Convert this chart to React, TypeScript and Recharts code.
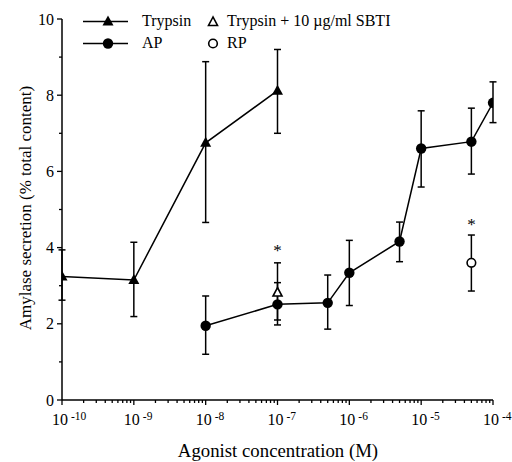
import React from 'react';
import { ComposedChart, Line, Scatter, XAxis, YAxis, ErrorBar } from 'recharts';

// Trypsin (filled triangles)
const trypsinConc = [1e-10, 1e-9, 1e-8, 1e-7];
const trypsinMean = [3.24, 3.15, 6.75, 8.12];
const trypsinLow = [2.62, 2.19, 4.66, 7.0];
const trypsinHigh = [3.94, 4.14, 8.88, 9.2];

// AP (filled circles)
const apConc = [1e-8, 1e-7, 5e-7, 1e-6, 5e-6, 1e-5, 5e-5, 1e-4];
const apMean = [1.95, 2.51, 2.55, 3.34, 4.16, 6.6, 6.78, 7.8];
const apLow = [1.2, 1.97, 1.86, 2.48, 3.63, 5.59, 5.93, 7.28];
const apHigh = [2.73, 3.08, 3.28, 4.19, 4.67, 7.59, 7.66, 8.35];

// Trypsin + 10 ug/ml SBTI (open triangle)
const sbtiConc = [1e-7];
const sbtiMean = [2.82];
const sbtiLow = [2.1];
const sbtiHigh = [3.6];

// RP (open circle)
const rpConc = [5e-5];
const rpMean = [3.6];
const rpLow = [2.86];
const rpHigh = [4.33];

// significance marks
const starConc = [1e-7, 5e-5];
const starLevel = [3.98, 4.68];

const decades = [-10, -9, -8, -7, -6, -5, -4];
const minorSteps = [2, 3, 4, 5, 6, 7, 8, 9];
const yTicks = [0, 1, 2, 3, 4, 5, 6, 7, 8, 9, 10];

const xTicks: number[] = [];
decades.forEach((d, i) => {
  xTicks.push(Math.pow(10, d));
  if (i < decades.length - 1) minorSteps.forEach((m) => xTicks.push(m * Math.pow(10, d)));
});

const build = (xs: number[], ys: number[], lo: number[], hi: number[]) =>
  xs.map((x, i) => ({ x, y: ys[i], err: [ys[i] - lo[i], hi[i] - ys[i]] }));

const trypsinData = build(trypsinConc, trypsinMean, trypsinLow, trypsinHigh);
const apData = build(apConc, apMean, apLow, apHigh);
const sbtiData = build(sbtiConc, sbtiMean, sbtiLow, sbtiHigh);
const rpData = build(rpConc, rpMean, rpLow, rpHigh);
const starData = starConc.map((x, i) => ({ x, y: starLevel[i] }));

const FONT = "Liberation Serif, Times New Roman, serif";

const FilledTri = ({ cx, cy }: any) => (
  <path d={`M${cx},${cy - 6} L${cx - 5.5},${cy + 4} L${cx + 5.5},${cy + 4} Z`} fill="#000" />
);
const OpenTri = ({ cx, cy }: any) => (
  <path d={`M${cx},${cy - 5} L${cx - 4.5},${cy + 3.5} L${cx + 4.5},${cy + 3.5} Z`} fill="#fff" stroke="#000" strokeWidth={1.6} />
);
const FilledDot = ({ cx, cy }: any) => <circle cx={cx} cy={cy} r={5.2} fill="#000" />;
const OpenDot = ({ cx, cy }: any) => <circle cx={cx} cy={cy} r={4.3} fill="#fff" stroke="#000" strokeWidth={1.6} />;
const Star = ({ cx, cy }: any) => (
  <text x={cx} y={cy + 8} textAnchor="middle" style={{ fontFamily: FONT }} fontSize={17} fill="#000">*</text>
);

const XTick = ({ x, y, payload }: any) => {
  const v = payload.value;
  const e = Math.log10(v);
  const major = Math.abs(e - Math.round(e)) < 1e-6;
  return (
    <g>
      <line x1={x} x2={x} y1={y} y2={y + (major ? 5 : 3)} stroke="#000" strokeWidth={1.3} />
      {major && (
        <>
          <text x={x - 2} y={y + 25} textAnchor="middle" style={{ fontFamily: FONT }} fontSize={16} fill="#000">10</text>
          <text x={x + 9} y={y + 19.5} textAnchor="start" style={{ fontFamily: FONT }} fontSize={11.5} fill="#000">{`-${-Math.round(e)}`}</text>
        </>
      )}
    </g>
  );
};

const YTick = ({ x, y, payload }: any) => {
  const v = payload.value;
  const major = v % 2 === 0;
  return (
    <g>
      <line x1={x - (major ? 5 : 3)} x2={x} y1={y} y2={y} stroke="#000" strokeWidth={1.3} />
      {major && (
        <text x={x - 8} y={y + 5.5} textAnchor="end" style={{ fontFamily: FONT }} fontSize={16} fill="#000">{v}</text>
      )}
    </g>
  );
};

const Overlay = () => (
  <svg width={512} height={462} style={{ position: 'absolute', left: 0, top: 0, pointerEvents: 'none', fontFamily: FONT }}>
    {/* legend */}
    <line x1={83} x2={128} y1={21.5} y2={21.5} stroke="#000" strokeWidth={1.5} />
    <FilledTri cx={108} cy={21.5} />
    <text x={142} y={26} fontSize={16} fill="#000">Trypsin</text>
    <line x1={83} x2={128} y1={43.5} y2={43.5} stroke="#000" strokeWidth={1.5} />
    <FilledDot cx={108} cy={43.5} />
    <text x={142} y={48} fontSize={16} fill="#000">AP</text>
    <OpenTri cx={213} cy={22} />
    <text x={227} y={26} fontSize={16} fill="#000">Trypsin + 10 µg/ml SBTI</text>
    <OpenDot cx={213} cy={43.5} />
    <text x={227} y={48} fontSize={16} fill="#000">RP</text>
    {/* axis titles */}
    <text x={278} y={457} textAnchor="middle" fontSize={18.8} fill="#000">Agonist concentration (M)</text>
    <text x={31} y={208} transform="rotate(-90 31 208)" textAnchor="middle" fontSize={17} fill="#000">
      Amylase secretion (% total content)
    </text>
  </svg>
);

export default function App() {
  return (
    <div style={{ position: 'absolute', left: 0, top: 0, width: 512, height: 462, background: '#fff' }}>
      <ComposedChart width={512} height={462} margin={{ top: 19, right: 19, bottom: 0, left: 2 }}>
        <XAxis
          dataKey="x"
          type="number"
          scale="log"
          domain={[1e-10, 1e-4]}
          allowDataOverflow
          ticks={xTicks}
          interval={0}
          tick={<XTick />}
          tickLine={false}
          tickSize={0}
          tickMargin={0}
          height={62}
          axisLine={{ stroke: '#000', strokeWidth: 1.5 }}
        />
        <YAxis
          dataKey="y"
          type="number"
          domain={[0, 10]}
          ticks={yTicks}
          interval={0}
          tick={<YTick />}
          tickLine={false}
          tickSize={0}
          tickMargin={0}
          width={60}
          axisLine={{ stroke: '#000', strokeWidth: 1.5 }}
        />
        <Line
          data={trypsinData}
          dataKey="y"
          stroke="#000"
          strokeWidth={1.5}
          dot={(p: any) => <FilledTri key={`t${p.index}`} cx={p.cx} cy={p.cy} />}
          activeDot={false}
          isAnimationActive={false}
        >
          <ErrorBar dataKey="err" direction="y" width={3.5} stroke="#000" strokeWidth={1.5} />
        </Line>
        <Line
          data={apData}
          dataKey="y"
          stroke="#000"
          strokeWidth={1.5}
          dot={(p: any) => <FilledDot key={`a${p.index}`} cx={p.cx} cy={p.cy} />}
          activeDot={false}
          isAnimationActive={false}
        >
          <ErrorBar dataKey="err" direction="y" width={3.5} stroke="#000" strokeWidth={1.5} />
        </Line>
        <Scatter data={sbtiData} dataKey="y" shape={(p: any) => <OpenTri cx={p.cx} cy={p.cy} />} isAnimationActive={false}>
          <ErrorBar dataKey="err" direction="y" width={3.5} stroke="#000" strokeWidth={1.5} />
        </Scatter>
        <Scatter data={rpData} dataKey="y" shape={(p: any) => <OpenDot cx={p.cx} cy={p.cy} />} isAnimationActive={false}>
          <ErrorBar dataKey="err" direction="y" width={3.5} stroke="#000" strokeWidth={1.5} />
        </Scatter>
        <Scatter data={starData} dataKey="y" shape={(p: any) => <Star cx={p.cx} cy={p.cy} />} isAnimationActive={false} />
      </ComposedChart>
      <Overlay />
    </div>
  );
}
